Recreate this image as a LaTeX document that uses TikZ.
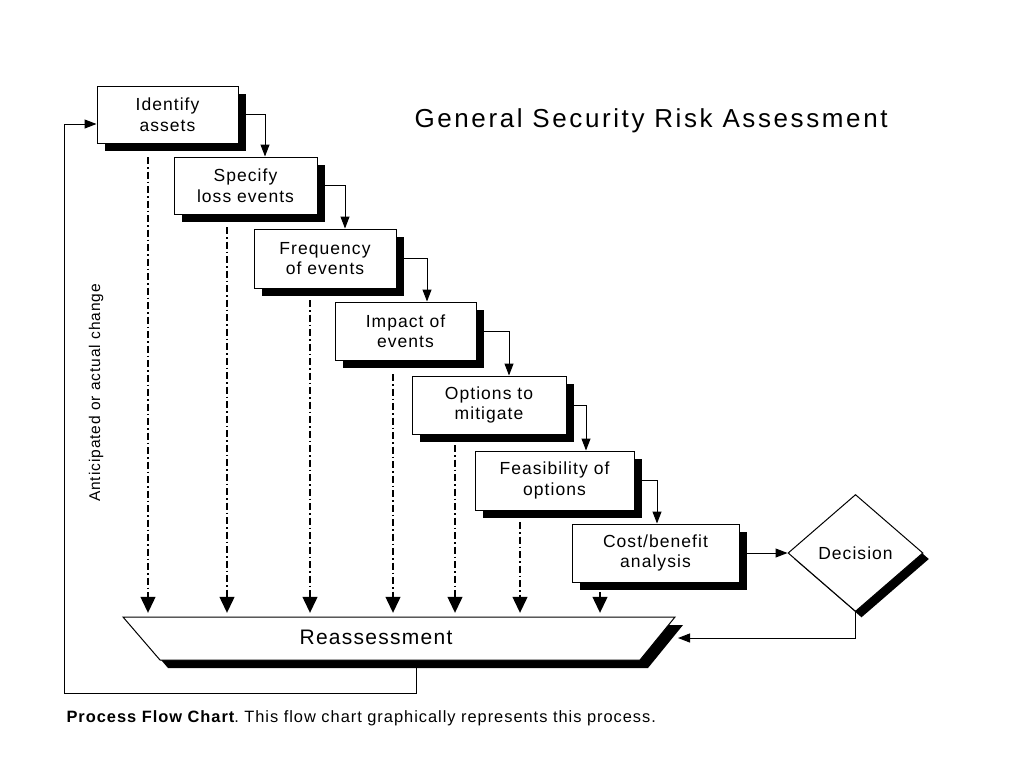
\documentclass[tikz,border=0pt]{standalone}
\usepackage{fontspec}
\setmainfont{Liberation Sans}[LetterSpace=6]
\usetikzlibrary{arrows.meta,shapes.geometric,shadows}
\begin{document}
\begin{tikzpicture}[x=1pt,y=-1pt,
  box/.style={draw=black,line width=1pt,fill=white,align=center,inner sep=0pt,
    font=\fontsize{17.5}{20.5}\selectfont,
    drop shadow={shadow xshift=8pt,shadow yshift=-8pt,fill=black,opacity=1}},
  flow/.style={line width=1pt,-{Triangle[length=12pt,width=9pt]}},
  dd/.style={line width=1.2pt,dash pattern=on 7pt off 3pt on 1.5pt off 3pt,
    -{Triangle[length=16pt,width=15pt]}}]
\useasboundingbox (0,0) rectangle (1024,768);
\fill[white] (0,0) rectangle (1024,768);
% title
\node[anchor=west,font=\fontsize{26}{31}\selectfont\addfontfeatures{LetterSpace=10}] (title) at (411,121) {General Security Risk Assessment};
% boxes
\node[box,minimum width=141pt,minimum height=57pt] (b1) at (167.5,114.5) {Identify\\assets};
\node[box,minimum width=143pt,minimum height=57pt] (b2) at (245.5,185.5) {Specify\\loss events};
\node[box,minimum width=142pt,minimum height=59pt] (b3) at (325,258.5) {Frequency\\of events};
\node[box,minimum width=141pt,minimum height=58pt] (b4) at (405.5,331) {Impact of\\events};
\node[box,minimum width=154pt,minimum height=58pt] (b5) at (489,405) {Options to\\mitigate};
\node[box,minimum width=159pt,minimum height=59pt] (b6) at (554.5,480.5) {Feasibility of\\options};
\node[box,minimum width=167pt,minimum height=58pt] (b7) at (655.5,553) {Cost/benefit\\analysis};
% decision
\node[diamond,draw=black,line width=1pt,fill=white,inner sep=0pt,
  minimum width=135pt,minimum height=117pt,font=\fontsize{17.5}{20.5}\selectfont,
  drop shadow={shadow xshift=6pt,shadow yshift=-6pt,fill=black,opacity=1}] (dec) at (855.5,553) {Decision};
% reassessment
\fill[black] (131,625) -- (683,625) -- (648,668) -- (168,668) -- cycle;
\filldraw[fill=white,draw=black,line width=1pt] (123,617) -- (675,617) -- (640,660) -- (160,660) -- cycle;
\node[minimum width=552pt,minimum height=43pt,inner sep=0pt] (reass) at (399,638.5) {};
\node[font=\fontsize{21}{25}\selectfont] (rtext) at (376,637) {Reassessment};
% step arrows
\draw[flow] (b1.east) -| ([xshift=19.5pt]b2.north);
\draw[flow] (b2.east) -| ([xshift=20pt]b3.north);
\draw[flow] (b3.east) -| ([xshift=21.5pt]b4.north);
\draw[flow] (b4.east) -| ([xshift=20pt]b5.north);
\draw[flow] (b5.east) -| ([xshift=31.5pt]b6.north);
\draw[flow] (b6.east) -| ([xshift=1.5pt]b7.north);
\draw[flow] (b7.east) -- (dec.west);
% dash-dot arrows
\coordinate (d1) at (148,157);
\coordinate (d2) at (227,227);
\coordinate (d3) at (310,300);
\coordinate (d4) at (393,374);
\coordinate (d5) at (455,445);
\coordinate (d6) at (520,522);
\coordinate (d7) at (600,592);
\foreach \d in {d1,d2,d3,d4,d5,d6,d7}
  \draw[dd,shorten >=4pt] (\d) -- (\d |- reass.north);
% decision back to reassessment
\coordinate (rin) at (678,638);
\draw[flow] (dec.south) |- (rin);
% feedback loop
\coordinate (fb) at (416,664);
\draw[flow] (fb) -- (416,693) -| (64,124) -- ([yshift=-9.5pt]b1.west);
\node[rotate=90,font=\fontsize{15.5}{18}\selectfont] (chg) at (96,393) {Anticipated or actual change};
% caption
\node[anchor=west,font=\fontsize{16.4}{19}\selectfont\addfontfeatures{LetterSpace=6}] (cap) at (63,718) {\textbf{Process Flow Chart}.\hspace{-2pt} This flow chart graphically represents this process.};
\end{tikzpicture}
\end{document}
